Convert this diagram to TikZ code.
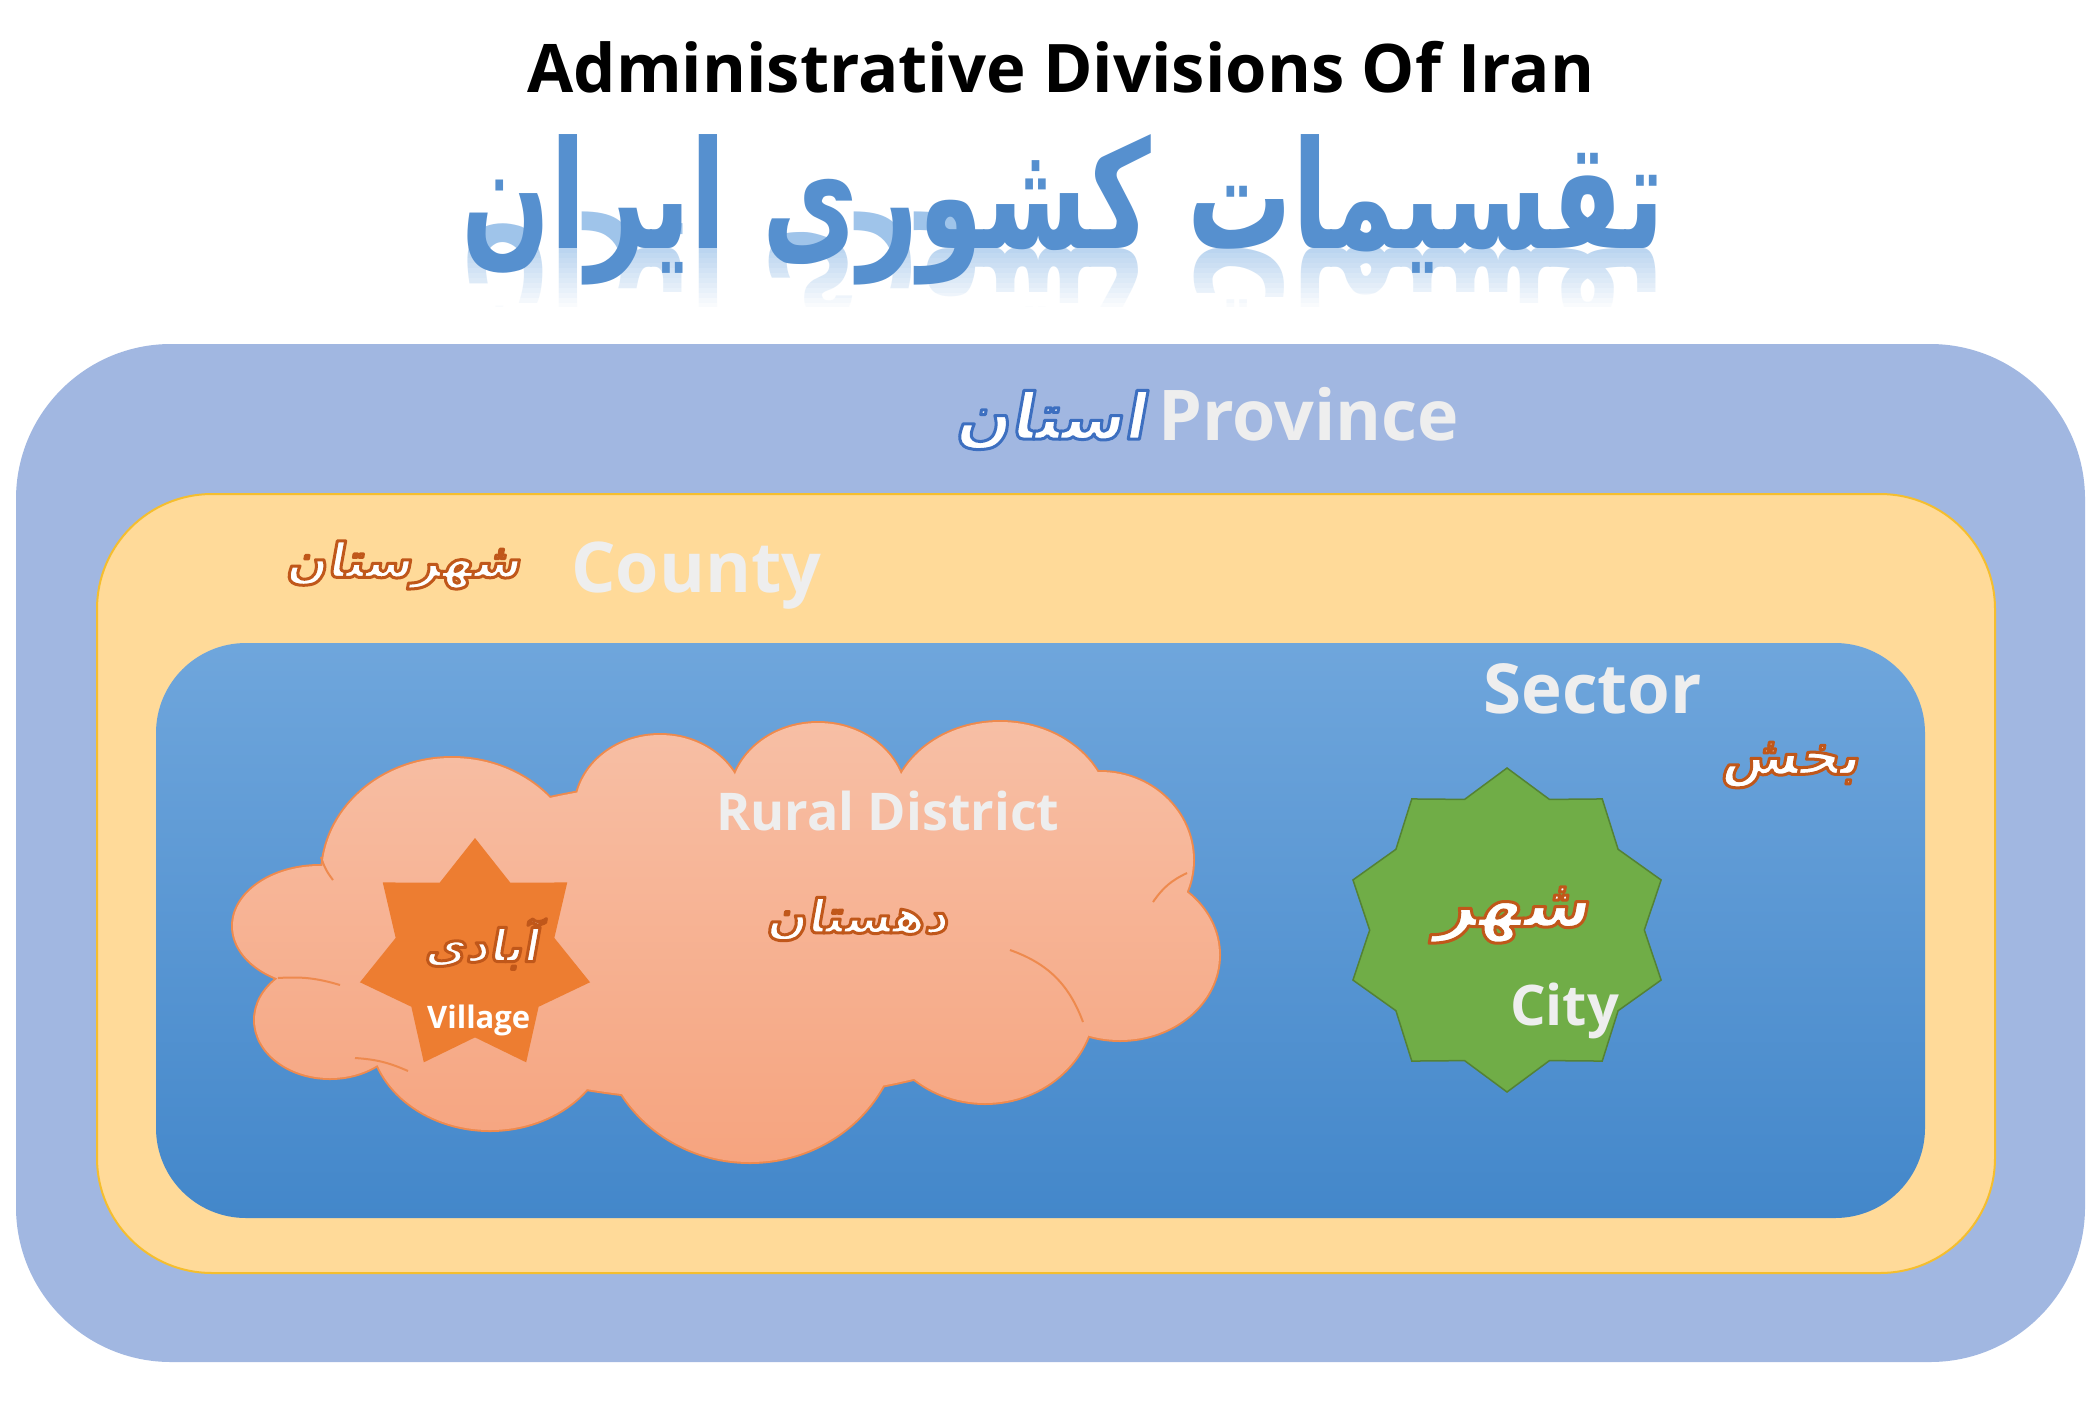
\documentclass[tikz,border=0pt]{standalone}
\usepackage{fontspec}
\setmainfont{Open Sans}
\newfontfamily\farsifont[Script=Arabic,FakeSlant=0.18]{DejaVu Sans}
\newfontfamily\farsititle[Script=Arabic]{DejaVu Sans}
\TeXXeTstate=1
\usepackage{graphicx}
\usepackage{tikz}
\usetikzlibrary{shapes.geometric}

\definecolor{provblue}{HTML}{A1B7E1}
\definecolor{countyfill}{HTML}{FFDA99}
\definecolor{countyedge}{HTML}{F5BE2E}
\definecolor{sectortop}{HTML}{6FA6DC}
\definecolor{sectorbot}{HTML}{4387CA}
\definecolor{cloudtop}{HTML}{F7BFA5}
\definecolor{cloudbot}{HTML}{F6A47F}
\definecolor{cloudedge}{HTML}{EE8A4E}
\definecolor{villageorange}{HTML}{ED7D31}
\definecolor{citygreen}{HTML}{70AD47}
\definecolor{cityedge}{HTML}{548235}
\definecolor{labelgrey}{HTML}{EEEEEE}
\definecolor{titleblue}{HTML}{5690CF}
\definecolor{titlerefl}{HTML}{9FC4EA}

% outlined persian words: fill white, stroke in the given rgb
\newcommand{\farsiglow}[2]{\special{pdf:literal direct 2 Tr 3 w 1 j #1 RG}\beginR #2\endR\special{pdf:literal direct 0 Tr}}
\def\glowbrown{0.753 0.341 0.102}
\def\glowblue{0.239 0.435 0.753}

\newcommand{\farsiheading}{\resizebox{1203pt}{\height}{\farsititle\bfseries\fontsize{150}{150}\selectfont\beginR تقسیمات کشوری ایران\endR}}

\def\ruralcloud{(320,926) ellipse [x radius=87pt, y radius=60pt]
  (330,1020) ellipse [x radius=75pt, y radius=58pt]
  (452,875) ellipse [x radius=130pt, y radius=117pt]
  (490,1030) ellipse [x radius=120pt, y radius=100pt]
  (660,810) ellipse [x radius=85pt, y radius=75pt]
  (818,800) ellipse [x radius=88pt, y radius=77pt]
  (1000,815) ellipse [x radius=110pt, y radius=93pt]
  (1100,860) ellipse [x radius=93pt, y radius=88pt]
  (1120,955) ellipse [x radius=99pt, y radius=85pt]
  (985,1000) ellipse [x radius=110pt, y radius=103pt]
  (750,1020) ellipse [x radius=150pt, y radius=142pt]
  (725,940) ellipse [x radius=380pt, y radius=160pt]}

\tikzset{
  lbl/.style={text=labelgrey, font=\bfseries\fontsize{#1}{#1}\selectfont, anchor=base west, inner sep=0pt},
  fa/.style={text=white, font=\farsifont\bfseries\fontsize{#1}{#1}\selectfont, inner sep=0pt},
  cloudarc/.style={draw=cloudedge, line width=2pt}
}

\begin{document}
\begin{tikzpicture}[x=1pt, y=-1pt]
  % Page
  \fill[white] (0,0) rectangle (2100,1424);
  \useasboundingbox (0,0) rectangle (2100,1424);

  % Headings
  \node[anchor=base, inner sep=0pt, font=\bfseries\fontsize{67}{67}\selectfont] (title) at (1061,92) {Administrative Divisions Of Iran};
  \node[anchor=base, inner sep=0pt, text=titlerefl] (farsiMirror) at (1063,248) {\scalebox{1}[-1]{\farsiheading}};
  \foreach \i in {0,...,11}
    \fill[white, opacity=0.3+\i/17] (430,248+5*\i) rectangle (1700,253+5*\i);
  \fill[white] (430,307) rectangle (1700,380);
  \node[anchor=base, inner sep=0pt, text=titleblue] (farsiTitle) at (1063,248) {\farsiheading};

  % Province, county and sector
  \fill[provblue, rounded corners=155pt] (16,344) rectangle (2085,1362);
  \filldraw[fill=countyfill, draw=countyedge, line width=2pt, rounded corners=115pt] (97,494) rectangle (1995,1273);
  \shade[top color=sectortop, bottom color=sectorbot, rounded corners=90pt] (156,643) rectangle (1925,1218);

  % Rural district cloud
  \draw[cloudedge, line width=4pt] \ruralcloud;
  \shade[top color=cloudtop, bottom color=cloudbot] \ruralcloud;
  \draw[cloudarc] (1010,950) to[bend left=25] (1083,1022);
  \draw[cloudarc] (278,978) to[bend left=10] (340,985);
  \draw[cloudarc] (1153,902) to[bend left=15] (1187,873);
  \draw[cloudarc] (355,1058) to[bend left=10] (408,1071);
  \draw[cloudarc] (321,857) to[bend right=10] (333,880);

  % Village and city
  \node[star, star points=7, star point ratio=1.45, minimum size=236pt, inner sep=0pt, fill=villageorange] (villageStar) at (475,956) {};
  \node[star, star points=10, star point ratio=1.18, minimum size=324pt, inner sep=0pt, fill=citygreen, draw=cityedge, line width=1.5pt] (cityStar) at (1507,930) {};

  % Labels
  \node[fa=64] (ostanFa) at (1050,420) {\farsiglow{\glowblue}{استان}};
  \node[lbl=70] (provinceLbl) at (1158,440) {Province};
  \node[fa=48] (shahrestanFa) at (403,565) {\farsiglow{\glowbrown}{شهرستان}};
  \node[lbl=70] (countyLbl) at (571,592) {County};
  \node[lbl=69] (sectorLbl) at (1483,713) {Sector};
  \node[fa=55] (bakhshFa) at (1790,765) {\farsiglow{\glowbrown}{بخش}};
  \node[lbl=52] (ruralLbl) at (716,830) {Rural District};
  \node[fa=47] (dehestanFa) at (857,919) {\farsiglow{\glowbrown}{دهستان}};
  \node[fa=45] (abadiFa) at (481,944) {\farsiglow{\glowbrown}{آبادی}};
  \node[lbl=31, text=white] (villageLbl) at (427,1028) {Village};
  \node[fa=68] (shahrFa) at (1512,915) {\farsiglow{\glowbrown}{شهر}};
  \node[lbl=56] (cityLbl) at (1510,1025) {City};
\end{tikzpicture}
\end{document}
